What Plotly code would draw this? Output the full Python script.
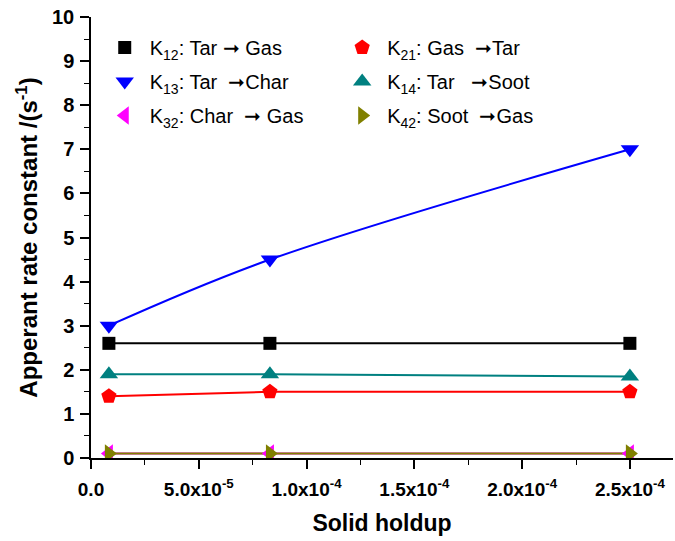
import plotly.graph_objects as go

x_holdup = [8.3e-6, 8.3e-5, 2.5e-4]
k12 = [2.6, 2.6, 2.6]
k21 = [1.4, 1.5, 1.5]
k13 = [3.0, 4.5, 7.0]
k14 = [1.9, 1.9, 1.85]
k32 = [0.1, 0.1, 0.1]
k42 = [0.1, 0.1, 0.1]

x_tickvals = [0, 5e-5, 1e-4, 1.5e-4, 2e-4, 2.5e-4]
x_ticktext = ["0.0", "5.0x10<sup>-5</sup>", "1.0x10<sup>-4</sup>", "1.5x10<sup>-4</sup>",
              "2.0x10<sup>-4</sup>", "2.5x10<sup>-4</sup>"]

arrow = "\u279E"
series = [
    ("K<sub>12</sub>: Tar " + arrow + " Gas", k12, "black", "square", 13, "linear", "legend"),
    ("K<sub>13</sub>: Tar  " + arrow + "Char", k13, "blue", "triangle-down", 16, "spline", "legend"),
    ("K<sub>32</sub>: Char  " + arrow + " Gas", k32, "#FF00FF", "triangle-left", 16, "linear", "legend"),
    ("K<sub>21</sub>: Gas  " + arrow + "Tar", k21, "red", "pentagon", 16, "linear", "legend2"),
    ("K<sub>14</sub>: Tar   " + arrow + "Soot", k14, "#008080", "triangle-up", 16, "linear", "legend2"),
    ("K<sub>42</sub>: Soot  " + arrow + "Gas", k42, "#808000", "triangle-right", 16, "linear", "legend2"),
]

FONT = "Arial, Liberation Sans, sans-serif"
fig = go.Figure()
for i, (name, ys, col, sym, sz, shape, lg) in enumerate(series):
    fig.add_trace(go.Scatter(
        x=x_holdup, y=ys, mode="lines", showlegend=False,
        line=dict(color=col, width=2, shape=shape), hoverinfo="skip",
    ))
for i, (name, ys, col, sym, sz, shape, lg) in enumerate(series):
    fig.add_trace(go.Scatter(
        x=x_holdup, y=ys, name=name, mode="markers", legend=lg,
        legendgroup="g%d" % i,
        marker=dict(symbol=sym, size=sz, color=col, line=dict(width=0)),
    ))

legend_common = dict(yanchor="top", xanchor="left", bgcolor="rgba(0,0,0,0)",
                     font=dict(size=20, family=FONT), tracegroupgap=5, itemwidth=40)
fig.update_layout(
    width=675, height=541,
    margin=dict(l=91, r=2, t=17, b=83),
    plot_bgcolor="white", paper_bgcolor="white",
    font=dict(family=FONT, color="black"),
    legend=dict(x=0.015, y=0.975, **legend_common),
    legend2=dict(x=0.423, y=0.975, **legend_common),
)
fig.update_xaxes(
    range=[0, 2.7e-4], showgrid=False, zeroline=False,
    showline=True, linecolor="black", linewidth=1.5,
    ticks="outside", ticklen=9, tickwidth=1.5, tickcolor="black",
    tickvals=x_tickvals, ticktext=x_ticktext, ticklabelstandoff=4,
    tickfont=dict(size=19, family=FONT, weight="bold"),
    minor=dict(dtick=2.5e-5, ticks="outside", ticklen=5, tickwidth=1.2, tickcolor="black"),
    title=dict(text="<b>Solid holdup</b>", font=dict(size=23, family=FONT), standoff=16),
)
fig.update_yaxes(
    range=[0, 10], showgrid=False, zeroline=False,
    showline=True, linecolor="black", linewidth=1.5,
    ticks="outside", ticklen=9, tickwidth=1.5, tickcolor="black",
    dtick=1, tickfont=dict(size=20, family=FONT, weight="bold"), ticklabelstandoff=2,
    minor=dict(dtick=0.5, ticks="outside", ticklen=5, tickwidth=1.2, tickcolor="black"),
    title=dict(text="<b>Apperant rate constant /(s<sup>-1</sup>)</b>", font=dict(size=24, family=FONT), standoff=8),
)

fig.write_html("out.html")
